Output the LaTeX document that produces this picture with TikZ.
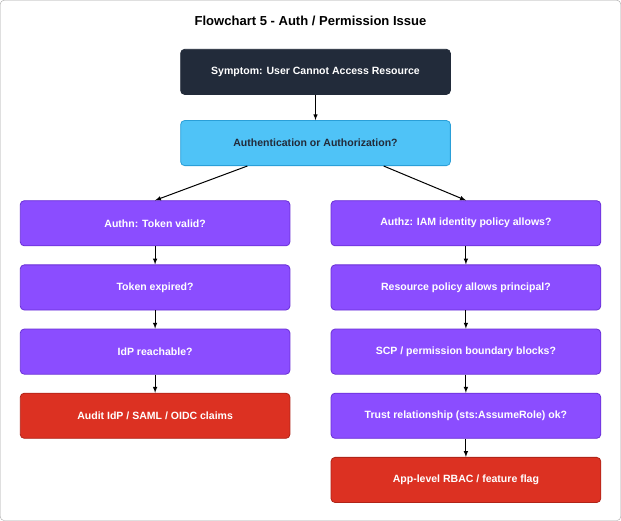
\documentclass[tikz,border=0pt]{standalone}
\usepackage{fontspec}
\setmainfont{Liberation Sans}
\usetikzlibrary{positioning}
\definecolor{darkbox}{HTML}{222B3A}
\definecolor{bluebox}{HTML}{4FC3F7}
\definecolor{blueline}{HTML}{2A9FD8}
\definecolor{purplebox}{HTML}{8B4DFF}
\definecolor{purpleline}{HTML}{6A2FD6}
\definecolor{redbox}{HTML}{DC3122}
\definecolor{redline}{HTML}{B02418}
\begin{document}
\begin{tikzpicture}[
  x=1pt,
  y=-1pt,
  font=\fontsize{10.5}{12}\selectfont\bfseries,
  box/.style={draw, rounded corners=4pt, align=center, minimum width=269pt, minimum height=45pt, line width=0.8pt},
  start/.style={box, fill=darkbox, draw=darkbox, text=white},
  question/.style={box, fill=bluebox, draw=blueline, text=darkbox},
  check/.style={box, fill=purplebox, draw=purpleline, text=white},
  action/.style={box, fill=redbox, draw=redline, text=white},
  arr/.style={-latex, line width=1pt}
]

% Rahmen
\draw[gray!70, rounded corners=4pt, fill=white] (1,1) rectangle (620,520);
\node[font=\fontsize{13}{15}\selectfont\bfseries] (title) at (310.5,22) {Flowchart 5 - Auth / Permission Issue};

% Einstieg
\node[start]    (symptom) at (315.5,72.5)  {Symptom: User Cannot Access Resource};
\node[question] (kind)    at (315.5,143.5) {Authentication or Authorization?};

% Linke Spalte (Authn)
\node[check]  (token)   at (155.5,223.5) {Authn: Token valid?};
\node[check]  (expired) at (155.5,287.5) {Token expired?};
\node[check]  (idp)     at (155.5,351.5) {IdP reachable?};
\node[action] (audit)   at (155.5,415.5) {Audit IdP / SAML / OIDC claims};

% Rechte Spalte (Authz)
\node[check]  (iam)      at (465.5,223.5) {Authz: IAM identity policy allows?};
\node[check]  (resource) at (465.5,287.5) {Resource policy allows principal?};
\node[check]  (scp)      at (465.5,351.5) {SCP / permission boundary blocks?};
\node[check]  (trust)    at (465.5,415.5) {Trust relationship (sts:AssumeRole) ok?};
\node[action] (rbac)     at (465.5,479.5) {App-level RBAC / feature flag};

% Verbindungen
\draw[arr] (symptom) -- (kind);
\draw[arr] ([xshift=-68pt]kind.south) -- (token.north);
\draw[arr] ([xshift=68pt]kind.south) -- (iam.north);
\draw[arr] (token) -- (expired);
\draw[arr] (expired) -- (idp);
\draw[arr] (idp) -- (audit);
\draw[arr] (iam) -- (resource);
\draw[arr] (resource) -- (scp);
\draw[arr] (scp) -- (trust);
\draw[arr] (trust) -- (rbac);

\end{tikzpicture}
\end{document}
